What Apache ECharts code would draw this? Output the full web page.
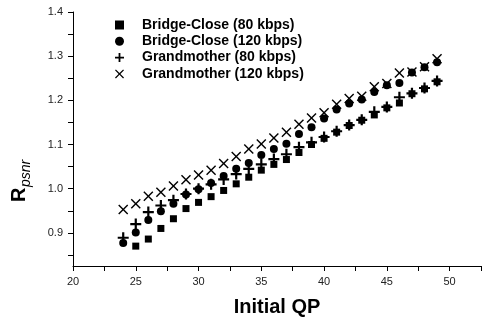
<!DOCTYPE html>
<html><head><meta charset="utf-8">
<script src="https://cdn.jsdelivr.net/npm/echarts@6/dist/echarts.min.js"></script>
<style>html,body{margin:0;padding:0;background:#fff}#c{width:485px;height:322px}</style>
</head><body><div id="c"></div>
<script>
const qp = [24,25,26,27,28,29,30,31,32,33,34,35,36,37,38,39,40,41,42,43,44,45,46,47,48,49];
const bridge80 = [null,0.870,0.886,0.910,0.932,0.955,0.969,0.982,0.996,1.011,1.026,1.042,1.055,1.066,1.082,1.100,1.114,1.128,1.143,1.155,1.167,1.183,1.194,1.215,1.226,1.242];
const bridge120 = [0.877,0.901,0.929,0.949,0.966,0.987,0.999,1.013,1.029,1.045,1.058,1.076,1.090,1.102,1.124,1.139,1.159,1.179,1.193,1.202,1.219,1.234,1.239,1.263,1.275,1.286];
const grand80 = [0.889,0.920,0.947,0.962,0.974,0.988,1.000,1.010,1.021,1.033,1.045,1.055,1.067,1.078,1.094,1.105,1.117,1.130,1.144,1.156,1.174,1.185,1.207,1.216,1.228,1.244];
const grand120 = [0.953,0.966,0.983,0.992,1.006,1.020,1.031,1.042,1.057,1.073,1.090,1.101,1.115,1.128,1.146,1.160,1.172,1.191,1.204,1.209,1.231,1.238,1.262,1.264,1.276,1.294];
const names = ['Bridge-Close (80 kbps)','Bridge-Close (120 kbps)','Grandmother (80 kbps)','Grandmother (120 kbps)'];
const xTicks = [20,22.5,25,27.5,30,32.5,35,37.5,40,42.5,45,47.5,50,52.5];
const xLabels = [20,25,30,35,40,45,50];
const yTicks = [0.85,0.9,0.95,1.0,1.05,1.1,1.15,1.2,1.25,1.3,1.35,1.4];
const yLabels = [0.9,1.0,1.1,1.2,1.3,1.4];

const PLUS = 'path://M4,0H6V4H10V6H6V10H4V6H0V4H4Z';
const CROSS = 'path://M0,1L1,0L5,4L9,0L10,1L6,5L10,9L9,10L5,6L1,10L0,9L4,5Z';
const symbols = ['rect','circle',PLUS,CROSS];
const sizes = [7,8,11,10];
const allData = [bridge80,bridge120,grand80,grand120];

const chart = echarts.init(document.getElementById('c'));
chart.setOption({
  animation:false,
  backgroundColor:'#fff',
  grid:{left:73,right:4,top:12,bottom:44,containLabel:false},
  legend:{
    orient:'vertical', left:115, top:17, itemGap:0.3, itemWidth:9, itemHeight:9, padding:0,
    textStyle:{fontFamily:'Liberation Sans',fontWeight:'bold',fontSize:14,lineHeight:16,color:'#000',padding:[0,0,0,13]},
    data:names.map((n,i)=>({name:n,icon:symbols[i]}))
  },
  xAxis:{type:'value',min:20,max:52.5,
    axisLine:{lineStyle:{color:'#000',width:1}},
    axisTick:{show:true,length:5,customValues:xTicks,lineStyle:{color:'#000'}},
    axisLabel:{customValues:xLabels,color:'#222',fontFamily:'Liberation Sans',fontSize:11,margin:10},
    splitLine:{show:false},
    name:'Initial QP',nameLocation:'middle',nameGap:31,
    nameTextStyle:{fontFamily:'Liberation Sans',fontWeight:'bold',fontSize:20,color:'#000'}
  },
  yAxis:{type:'value',min:0.825,max:1.4,
    axisLine:{show:true,lineStyle:{color:'#000',width:1}},
    axisTick:{show:true,length:5,customValues:yTicks,lineStyle:{color:'#000'}},
    axisLabel:{customValues:yLabels,color:'#222',fontFamily:'Liberation Sans',fontSize:11,margin:10,formatter:v=>v.toFixed(1)},
    splitLine:{show:false}
  },
  graphic:[{type:'group',x:29,y:202,rotation:Math.PI/2,children:[
    {type:'text',x:0,y:0,style:{text:'R',font:'bold 20px "Liberation Sans"',fill:'#000',textVerticalAlign:'bottom'}},
    {type:'text',x:15,y:4,style:{text:'psnr',font:'italic 14px "Liberation Sans"',fill:'#000',textVerticalAlign:'bottom'}}
  ]}],
  series:allData.map((d,i)=>({
    name:names[i],type:'scatter',symbol:symbols[i],symbolSize:sizes[i],
    itemStyle:{color:'#000',opacity:1},
    data:qp.map((q,j)=>d[j]==null?null:[q,d[j]]).filter(p=>p)
  }))
});
</script></body></html>
